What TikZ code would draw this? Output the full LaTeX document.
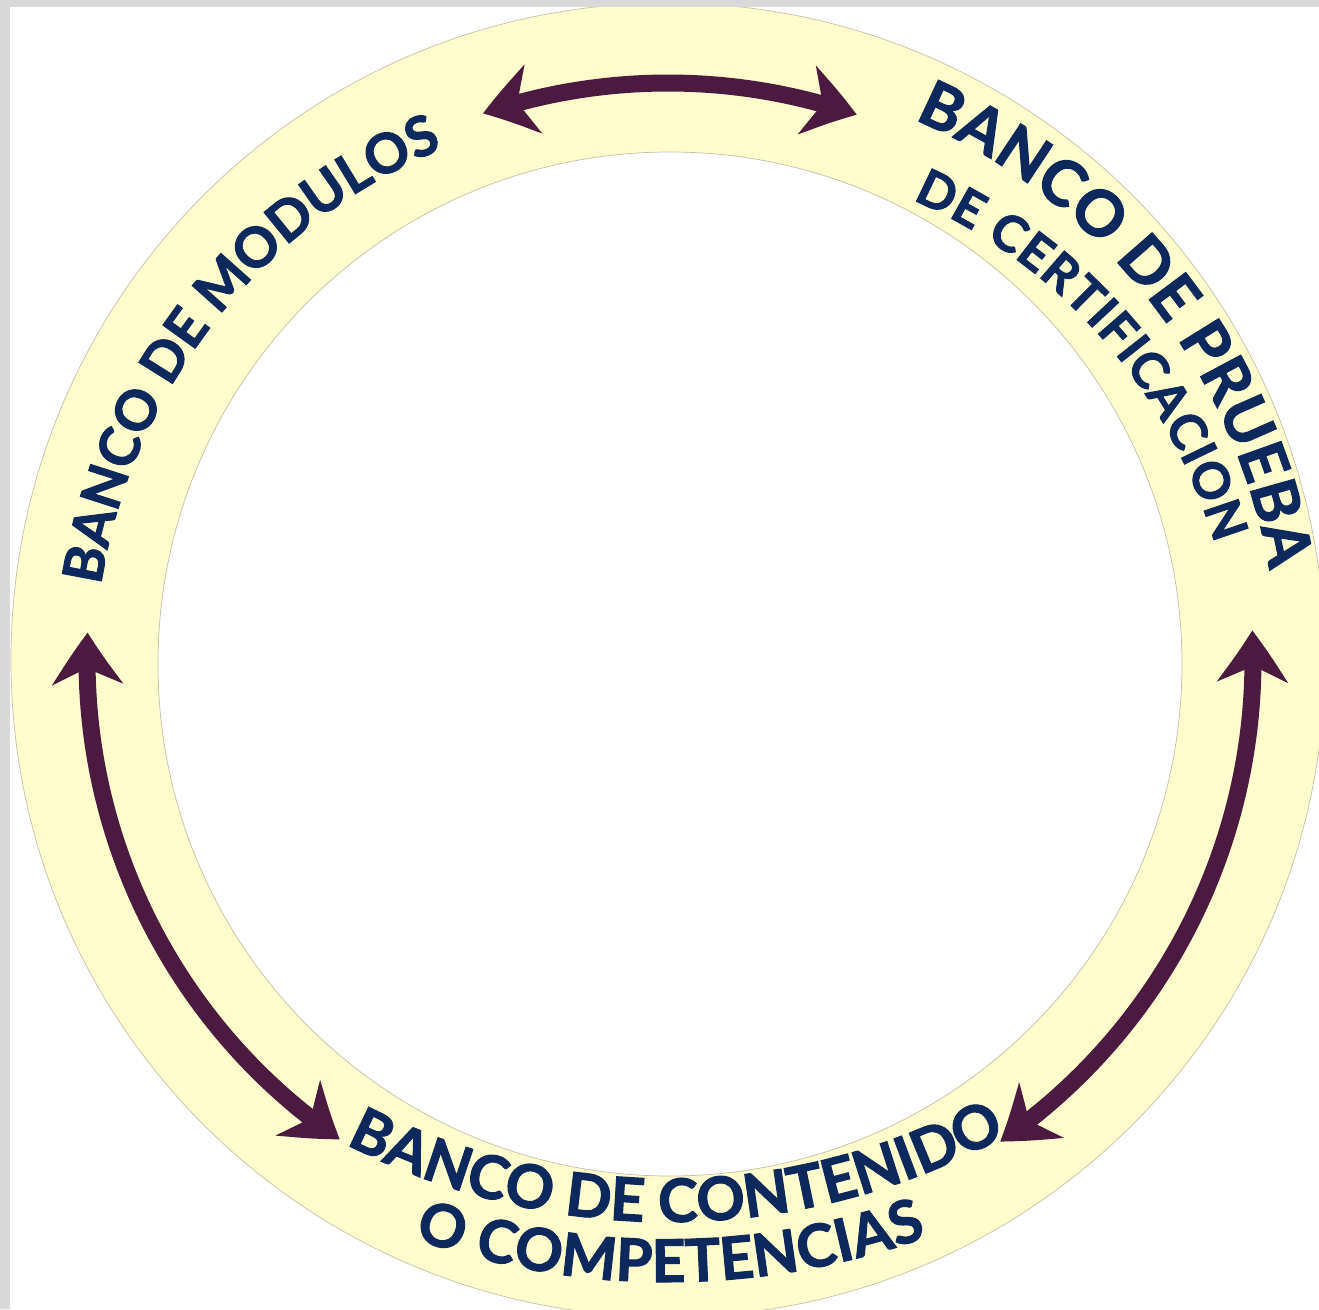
\documentclass[tikz,border=0pt]{standalone}
\usepackage{fontspec}
\setmainfont{Lato}
\newfontfamily\heavyfont{Lato}[BoldFeatures={FakeBold=1.8}]
\usetikzlibrary{arrows.meta,bending,decorations.text}
\definecolor{ringfill}{RGB}{255,253,206}
\definecolor{ringedge}{RGB}{196,192,168}
\definecolor{navy}{RGB}{12,40,92}
\definecolor{plum}{RGB}{76,26,64}
\definecolor{framegray}{RGB}{217,217,217}
\begin{document}
\begin{tikzpicture}[x=1pt,y=1pt,
  bankarrow/.style={draw=plum, line width=17pt,
    {Stealth[length=52pt,width=70pt,inset=16pt,bend]}-{Stealth[length=52pt,width=70pt,inset=16pt,bend]}},
  ringline/.style={draw=ringedge, line width=0.7pt}
]
\useasboundingbox (-668,-649) rectangle (651,660);
\clip (-668,-649) rectangle (651,660);
\fill[white] (-668,-649) rectangle (651,660);
% ring
\fill[ringfill, even odd rule] (0,0) circle[radius=657pt] (2,-4) circle[radius=512pt];
\draw[ringline] (0,0) circle[radius=657pt];
\draw[ringline] (2,-4) circle[radius=512pt];
% frame
\fill[framegray] (-668,653) rectangle (651,660);
\fill[framegray] (-668,-649) rectangle (-658,660);
% arrows
\coordinate (topL) at (108.7:577);
\coordinate (leftT) at (177.3:581);
\coordinate (rightT) at (2.9:585);
\draw[bankarrow] (topL) arc[start angle=108.7, end angle=70.9, radius=577pt];
\draw[bankarrow] (leftT) arc[start angle=177.3, end angle=235.6, radius=581pt];
\draw[bankarrow] (rightT) arc[start angle=2.9, end angle=-55.4, radius=585pt];
% texts
\path[decorate, decoration={text along path, text align={fit to path},
  text={|\fontsize{55pt}{55pt}\selectfont\heavyfont\bfseries\color{navy}|BANCO DE MODULOS}}]
  plot[domain=172.5:114, samples=80] ({(572-13*(172.5-\x)/58.5)*cos(\x)},{(572-13*(172.5-\x)/58.5)*sin(\x)});
\path[decorate, decoration={text along path, text align={fit to path},
  text={|\fontsize{63pt}{63pt}\selectfont\heavyfont\bfseries\color{navy}|BANCO DE PRUEBA}}]
  plot[domain=65.5:8.5, samples=80] ({(594+14*(65.5-\x)/57)*cos(\x)},{(594+14*(65.5-\x)/57)*sin(\x)});
\path[decorate, decoration={text along path, text align={fit to path},
  text={|\fontsize{50pt}{50pt}\selectfont\heavyfont\bfseries\color{navy}|DE CERTIFICACION}}]
  plot[domain=62:12, samples=80] ({(521+38*(62-\x)/50)*cos(\x)},{(521+38*(62-\x)/50)*sin(\x)});
\path[decorate, decoration={text along path, text align={fit to path},
  text={|\fontsize{60pt}{60pt}\selectfont\heavyfont\bfseries\color{navy}|BANCO DE CONTENIDO}}]
  plot[domain=242.8:297.2, samples=80] ({705*cos(\x)},{143+705*sin(\x)});
\path[decorate, decoration={text along path, text align={fit to path},
  text={|\fontsize{59pt}{59pt}\selectfont\heavyfont\bfseries\color{navy}|O COMPETENCIAS}}]
  plot[domain=250.6:289.8, samples=80] ({765*cos(\x)},{143+765*sin(\x)});
\end{tikzpicture}
\end{document}
